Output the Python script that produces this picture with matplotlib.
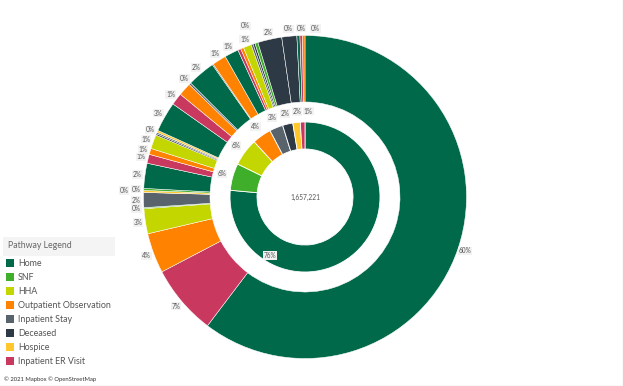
import numpy as np
import matplotlib.pyplot as plt
from matplotlib.patches import Rectangle

plt.rcParams['font.family'] = ['Lato', 'DejaVu Sans']

categories = ['Home', 'SNF', 'HHA', 'Outpatient Observation', 'Inpatient Stay',
              'Deceased', 'Hospice', 'Inpatient ER Visit']
colors = ['#00694A', '#3FAE2A', '#C4D600', '#FF8200', '#59636C',
          '#2D3A45', '#FFC72C', '#C8385F']

# first step of the pathway (inner ring), % of episodes
inner_share = [76.2, 5.8, 5.9, 4.1, 2.9, 2.2, 1.6, 1.0]
total_count = 1657221

# full pathway (outer ring), read clockwise from 12 o'clock
outer_path = ['Home', 'Inpatient ER Visit', 'Outpatient Observation', 'HHA', 'SNF',
              'Inpatient Stay', 'Hospice', 'SNF', 'Home', 'Inpatient ER Visit',
              'Outpatient Observation', 'HHA', 'Deceased', 'Inpatient Stay', 'Hospice',
              'Home', 'Inpatient ER Visit', 'Outpatient Observation', 'Inpatient Stay',
              'Home', 'Deceased', 'Outpatient Observation', 'Home', 'Inpatient ER Visit',
              'Outpatient Observation', 'HHA', 'Inpatient Stay', 'Deceased', 'SNF',
              'Deceased', 'Deceased', 'Home', 'Inpatient ER Visit', 'Outpatient Observation']
outer_share = [60.2, 7.0, 4.0, 2.5, 0.1,
               1.5, 0.2, 0.2, 2.5, 0.9,
               0.6, 1.4, 0.15, 0.15, 0.2,
               3.0, 1.2, 1.3, 0.2,
               2.8, 0.1, 1.4, 1.4, 0.3,
               0.3, 0.8, 0.2, 0.2, 0.3,
               2.4, 1.5, 0.3, 0.25, 0.25]
outer_labels = ['60%', '7%', '4%', '3%', '0%',
                '2%', '0%', '0%', '2%', '1%',
                '1%', '1%', '', '0%', '',
                '3%', '1%', '', '0%',
                '2%', '', '1%', '1%', '',
                '', '1%', '0%', '', '',
                '2%', '0%', '0%', '', '0%']

W, H = 623, 386
fig = plt.figure(figsize=(W / 100, H / 100), dpi=100)
ax = fig.add_axes([0, 0, 1, 1])
cx, cy = 305, H - 197
r_in, r_out = 75, 161.5

ax.pie(inner_share, colors=colors, radius=r_in, center=(cx, cy), startangle=90,
       counterclock=False, wedgeprops=dict(width=27, edgecolor='white', linewidth=0.6))
outer_colors = [colors[categories.index(c)] for c in outer_path]
ax.pie(outer_share, colors=outer_colors, radius=r_out, center=(cx, cy), startangle=90,
       counterclock=False, wedgeprops=dict(width=66.5, edgecolor='white', linewidth=0.35))

lab_box = dict(boxstyle='square,pad=0.12', fc='#F2F2F2', ec='none')


def mid_angles(vals):
    v = np.array(vals, dtype=float)
    c = np.cumsum(v) - v / 2
    return np.deg2rad(c / v.sum() * 360)


def clear(x, y, placed):
    return all(abs(x - px) > 11.5 or abs(y - py) > 7.5 for px, py in placed)


def spot(a, r0, placed, pushes=4):
    # slide sideways a little first, then move outward
    for r in r0 + 12 * np.arange(pushes):
        for da in (0, 1, -1, 2, -2, 3, -3, 4, -4):
            t = a + np.deg2rad(da)
            x, y = cx + r * np.sin(t), cy + r * np.cos(t)
            if clear(x, y, placed):
                return x, y
    return x, y


# outer labels
ang = mid_angles(outer_share)
placed = []
for i in np.argsort(outer_share, kind='stable')[::-1]:
    if not outer_labels[i]:
        continue
    x, y = spot(ang[i], 169, placed)
    placed.append((x, y))
    ax.text(x, y, outer_labels[i], fontsize=4.7, color='#555555',
            ha='center', va='center', bbox=lab_box)

# inner labels
ang = mid_angles(inner_share)
placed = []
for i, v in enumerate(inner_share):
    if i == 0:
        a = np.deg2rad(211)
        x, y = cx + 68 * np.sin(a), cy + 68 * np.cos(a)
    else:
        x, y = spot(ang[i], 86, placed, pushes=1)
    placed.append((x, y))
    ax.text(x, y, f'{round(v)}%', fontsize=4.7,
            color='#555555', ha='center', va='center', bbox=lab_box)

ax.text(cx, cy, f'{total_count:,}', fontsize=4.8, color='#555555', ha='center', va='center')

# legend
ax.add_patch(Rectangle((3, H - 256), 112, 19, fc='#F4F4F4', ec='none'))
ax.text(8, H - 246, 'Pathway Legend', fontsize=6.3, color='#666666', va='center')
for k, (name, col) in enumerate(zip(categories, colors)):
    yy = H - (263 + 14 * k)
    ax.add_patch(Rectangle((6, yy - 4), 8, 8, fc=col, ec='none'))
    ax.text(18, yy, name, fontsize=6.4, color='#555555', va='center')

ax.text(4, H - 379, '\u00a9 2021 Mapbox \u00a9 OpenStreetMap', fontsize=4.2,
        color='#333333', va='center')

ax.axvline(622.5, color='#E3E3E3', lw=1)
ax.axhline(0.5, color='#E3E3E3', lw=1)

ax.set_xlim(0, W)
ax.set_ylim(0, H)
ax.set_aspect('equal')
ax.axis('off')
fig.savefig('out.png', dpi=100)
